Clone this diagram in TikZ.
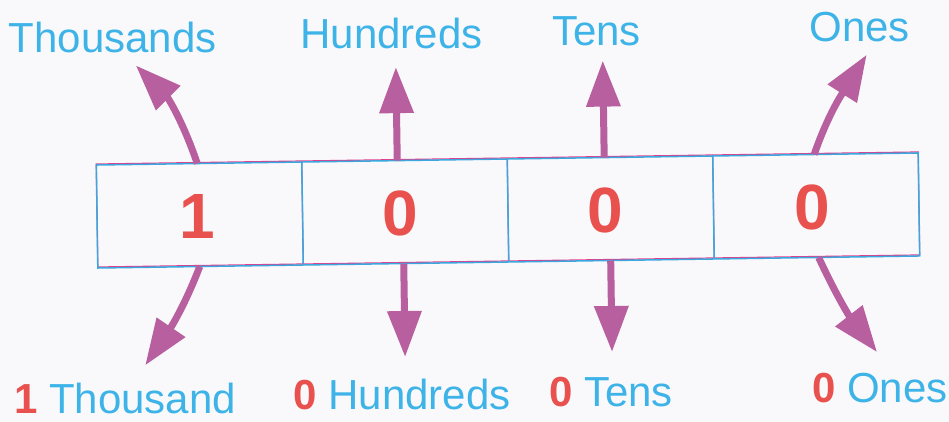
\documentclass[tikz,border=0pt]{standalone}
\usepackage{fontspec}
\setmainfont{Liberation Sans}
\usetikzlibrary{arrows.meta}
\definecolor{lblue}{HTML}{3DB3E8}
\definecolor{dred}{HTML}{E8514D}
\definecolor{arrc}{HTML}{B8609F}
\definecolor{boxblue}{HTML}{3AA8DE}
\definecolor{boxpink}{HTML}{E0408F}
\definecolor{bg}{HTML}{F9F9FB}
\tikzset{
  arr/.style={draw=arrc, line width=7pt, -{Triangle[length=46pt,width=33pt]}},
  lbl/.style={text=lblue, inner sep=0pt, anchor=base, font=\fontsize{42}{48}\selectfont},
  dig/.style={text=dred, inner sep=0pt, anchor=base, font=\fontsize{64}{70}\selectfont\bfseries},
}
\begin{document}
\begin{tikzpicture}[x=1pt,y=1pt]
\fill[bg] (0,0) rectangle (949,422);
\useasboundingbox (0,0) rectangle (949,422);
\begin{scope}[rotate around={0.84:(508,211)}]
  % box
  \draw[boxpink, line width=1.2pt] (97,161) rectangle (919,264);
  \draw[boxpink, line width=1.2pt] (302.5,161) -- (302.5,264) (508,161) -- (508,264) (713.5,161) -- (713.5,264);
  \draw[boxblue, line width=1.5pt] (97,160) rectangle (919,263);
  \draw[boxblue, line width=1.5pt] (302.5,160) -- (302.5,263) (508,160) -- (508,263) (713.5,160) -- (713.5,263);
  % digits
  \node[dig] (d1) at (197,188.5) {1};
  \node[dig] (d2) at (400,188.5) {0};
  \node[dig] (d3) at (605,188.5) {0};
  \node[dig] (d4) at (812,188.5) {0};
  % top labels
  \node[lbl] (tth) at (115,375) {Thousands};
  \node[lbl] (thu) at (394,375) {Hundreds};
  \node[lbl] (tte) at (599,375) {Tens};
  \node[lbl] (ton) at (862,375) {Ones};
  % bottom labels
  \node[lbl] (bth) at (122,14) {{\bfseries\color{dred}1} Thousand};
  \node[lbl] (bhu) at (399,14) {{\bfseries\color{dred}0} Hundreds};
  \node[lbl] (bte) at (608,14) {{\bfseries\color{dred}0} Tens};
  \node[lbl] (bon) at (877,14) {{\bfseries\color{dred}0} Ones};
  % arrow end points
  \coordinate (tu0) at (198,263);
  \coordinate (tu1) at (138,362);
  \coordinate (hu0) at (398,263);
  \coordinate (hu1) at (398,356.5);
  \coordinate (eu0) at (605,263);
  \coordinate (eu1) at (605,360);
  \coordinate (ou0) at (815,263);
  \coordinate (ou1) at (869,362);
  \coordinate (td0) at (199,160);
  \coordinate (td1) at (143,62);
  \coordinate (hd0) at (403,160);
  \coordinate (hd1) at (403,66.5);
  \coordinate (ed0) at (610,160);
  \coordinate (ed1) at (610,68.5);
  \coordinate (od0) at (818,160);
  \coordinate (od1) at (875,64.5);
  % arrows
  \draw[arr] (tu0) to[out=108,in=-46] (tu1);
  \draw[arr] (hu0) -- (hu1);
  \draw[arr] (eu0) -- (eu1);
  \draw[arr] (ou0) to[out=70,in=-123] (ou1);
  \draw[arr] (td0) to[out=-112,in=55] (td1);
  \draw[arr] (hd0) -- (hd1);
  \draw[arr] (ed0) -- (ed1);
  \draw[arr] (od0) to[out=-66,in=127] (od1);
\end{scope}
\end{tikzpicture}
\end{document}
